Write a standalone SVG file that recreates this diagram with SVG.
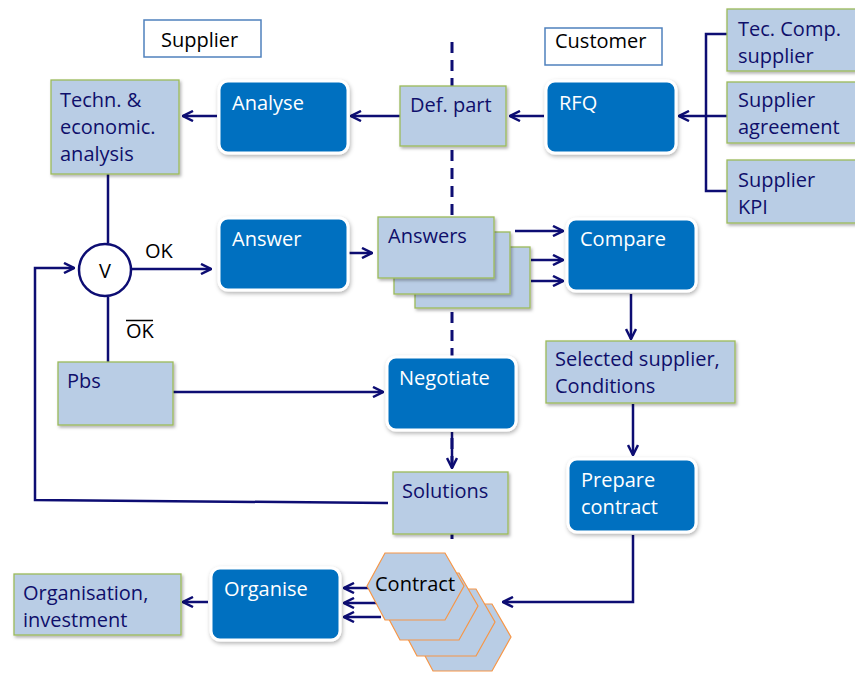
<svg xmlns="http://www.w3.org/2000/svg" width="855" height="673" viewBox="0 0 855 673">
<defs>
<style>
.lb{fill:#b9cde5;stroke:#9bbb59;stroke-width:1.3;filter:url(#sh)}
.db{fill:#0070c0;stroke:#fff;stroke-width:3;filter:url(#sh2)}
.hx{fill:#b9cde5;stroke:#f79646;stroke-width:1.2}
.lbl{fill:#fff;stroke:#4f81bd;stroke-width:1.5}
.t{font-family:"Open Sans","Liberation Sans",sans-serif;font-size:20px;fill:#0f0f6b}
.w{font-family:"Open Sans","Liberation Sans",sans-serif;font-size:20px;fill:#fff}
.k{font-family:"Open Sans","Liberation Sans",sans-serif;font-size:20px;fill:#000}
.c{fill:none;stroke:#0d0d73;stroke-width:2.5}
</style>
<filter id="sh" x="-10%" y="-10%" width="125%" height="130%"><feDropShadow dx="1.5" dy="2" stdDeviation="1.5" flood-color="#000" flood-opacity="0.3"/></filter>
<filter id="sh2" x="-10%" y="-10%" width="125%" height="130%"><feDropShadow dx="1" dy="2" stdDeviation="2" flood-color="#000" flood-opacity="0.3"/></filter>
<marker id="a" viewBox="0 0 10 10" refX="9" refY="5" markerWidth="5" markerHeight="5" orient="auto" markerUnits="strokeWidth">
<path d="M1,1 L9,5 L1,9" fill="none" stroke="#0d0d73" stroke-width="2"/>
</marker>
</defs>

<g id="dash"><line x1="452" y1="42" x2="452" y2="540" stroke="#0d0d73" stroke-width="3" stroke-dasharray="11,7"/></g>

<g id="supplier-label"><rect class="lbl" x="144" y="20" width="117" height="37"/><text class="k" x="161" y="47">Supplier</text></g>
<g id="customer-label"><rect class="lbl" x="545" y="28" width="117" height="37"/><text class="k" x="555" y="48">Customer</text></g>

<g id="connectors">
<line class="c" x1="400" y1="116" x2="351" y2="116" marker-end="url(#a)"/>
<line class="c" x1="217" y1="116" x2="183" y2="116" marker-end="url(#a)"/>
<line class="c" x1="544" y1="116" x2="510" y2="116" marker-end="url(#a)"/>
<polyline class="c" points="727,34 706,34 706,191 727,191"/>
<line class="c" x1="727" y1="116" x2="679" y2="116" marker-end="url(#a)"/>
<line class="c" x1="108" y1="174" x2="108" y2="243"/>
<line class="c" x1="108" y1="297" x2="108" y2="362"/>
<line class="c" x1="132" y1="269" x2="211" y2="269" marker-end="url(#a)"/>
<polyline class="c" points="388,503 35,500 35,268 74,268" marker-end="url(#a)"/>
<line class="c" x1="348" y1="253" x2="372" y2="253" marker-end="url(#a)"/>
<line class="c" x1="515" y1="231" x2="563" y2="231" marker-end="url(#a)"/>
<line class="c" x1="531" y1="260" x2="563" y2="260" marker-end="url(#a)"/>
<line class="c" x1="531" y1="281" x2="563" y2="281" marker-end="url(#a)"/>
<line class="c" x1="631" y1="294" x2="631" y2="339" marker-end="url(#a)"/>
<line class="c" x1="633" y1="404" x2="633" y2="455" marker-end="url(#a)"/>
<polyline class="c" points="633,535 633,602 503,602" marker-end="url(#a)"/>
<line class="c" x1="173" y1="392" x2="383" y2="392" marker-end="url(#a)"/>
<line class="c" x1="452" y1="432" x2="452" y2="468" marker-end="url(#a)"/>
<line class="c" x1="370" y1="588" x2="344" y2="588" marker-end="url(#a)"/>
<line class="c" x1="377" y1="603" x2="344" y2="603" marker-end="url(#a)"/>
<line class="c" x1="381" y1="617" x2="344" y2="617" marker-end="url(#a)"/>
<line class="c" x1="208" y1="602" x2="183" y2="602" marker-end="url(#a)"/>
</g>

<g id="techn"><rect class="lb" x="51" y="80" width="128" height="94"/><text class="t" x="60" y="107">Techn. &amp;</text><text class="t" x="60" y="134">economic.</text><text class="t" x="60" y="161">analysis</text></g>
<g id="analyse"><rect class="db" x="219" y="81" width="129" height="72" rx="9"/><text class="w" x="232" y="110">Analyse</text></g>
<g id="defpart"><rect class="lb" x="400" y="86" width="106" height="60"/><text class="t" x="410" y="112">Def. part</text></g>
<g id="rfq"><rect class="db" x="546" y="81" width="130" height="72" rx="9"/><text class="w" x="559" y="110">RFQ</text></g>
<g id="teccomp"><rect class="lb" x="727" y="9" width="130" height="62"/><text class="t" x="738" y="36">Tec. Comp.</text><text class="t" x="738" y="63">supplier</text></g>
<g id="agreement"><rect class="lb" x="727" y="82" width="130" height="61"/><text class="t" x="738" y="107">Supplier</text><text class="t" x="738" y="134">agreement</text></g>
<g id="kpi"><rect class="lb" x="727" y="160" width="130" height="63"/><text class="t" x="738" y="187">Supplier</text><text class="t" x="738" y="214">KPI</text></g>

<g id="v"><circle cx="105" cy="270" r="26" fill="#fff" stroke="#0d0d73" stroke-width="2.5"/><text class="k" x="105" y="278" text-anchor="middle">V</text></g>
<g id="ok"><text class="k" x="145" y="258" font-size="18">OK</text></g>
<g id="notok"><text class="k" x="126" y="338" font-size="18">OK</text><line x1="126" y1="320.5" x2="153" y2="320.5" stroke="#000" stroke-width="1.5"/></g>

<g id="answer"><rect class="db" x="219" y="218" width="129" height="72" rx="9"/><text class="w" x="232" y="246">Answer</text></g>
<g id="answers">
<rect class="lb" x="415" y="247" width="115" height="61"/>
<rect class="lb" x="394" y="232" width="116" height="62"/>
<rect class="lb" x="378" y="217" width="116" height="61"/>
<text class="t" x="388" y="243">Answers</text></g>
<g id="compare"><rect class="db" x="567" y="219" width="129" height="72" rx="9"/><text class="w" x="580" y="246">Compare</text></g>
<g id="selected"><rect class="lb" x="546" y="341" width="189" height="62"/><text class="t" x="555" y="366">Selected supplier,</text><text class="t" x="555" y="393">Conditions</text></g>
<g id="pbs"><rect class="lb" x="58" y="362" width="115" height="63"/><text class="t" x="67" y="388">Pbs</text></g>
<g id="negotiate"><rect class="db" x="387" y="357" width="129" height="73" rx="9"/><text class="w" x="399" y="385">Negotiate</text></g>
<g id="solutions"><rect class="lb" x="393" y="472" width="115" height="62"/><text class="t" x="402" y="498">Solutions</text></g>
<g id="prepare"><rect class="db" x="568" y="459" width="128" height="73" rx="9"/><text class="w" x="581" y="487">Prepare</text><text class="w" x="581" y="514">contract</text></g>

<g id="contract">
<polygon class="hx" points="415,637 433,604 492,604 511,637 492,671 433,671"/>
<polygon class="hx" points="399,622 417,589 476,589 495,622 476,656 417,656"/>
<polygon class="hx" points="382,606 400,573 459,573 478,606 459,640 400,640"/>
<polygon class="hx" points="367,586 385,553 445,553 464,586 445,620 385,620"/>
<text class="k" x="375" y="591">Contract</text></g>

<g id="organise"><rect class="db" x="211" y="568" width="129" height="72" rx="9"/><text class="w" x="224" y="596">Organise</text></g>
<g id="organisation"><rect class="lb" x="14" y="574" width="167" height="61"/><text class="t" x="23" y="600">Organisation,</text><text class="t" x="23" y="627">investment</text></g>
</svg>
